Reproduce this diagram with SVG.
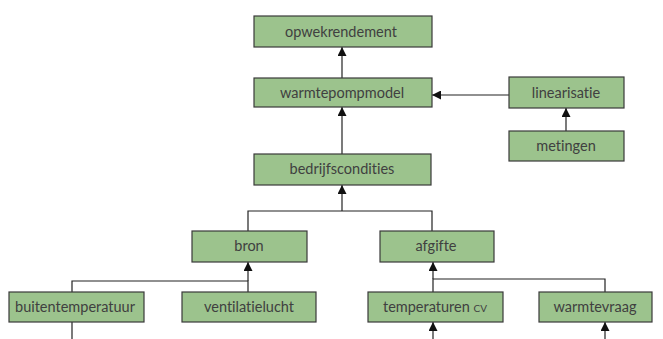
<svg xmlns="http://www.w3.org/2000/svg" width="663" height="339" viewBox="0 0 663 339">
  <style>
    .box { fill: #9cc38d; stroke: #3a3a3a; stroke-width: 1.2; }
    .lbl { font-family: Lato, "Open Sans", sans-serif; font-size: 14.5px; fill: #404040; text-anchor: middle; font-variant-ligatures: none; }
    .edge { fill: none; stroke: #222; stroke-width: 1.2; }
  </style>
  <defs>
    <marker id="arrow" viewBox="0 0 10 10" refX="10" refY="5" markerWidth="9" markerHeight="9" markerUnits="userSpaceOnUse" orient="auto">
      <path d="M0,0 L10,5 L0,10 Z" fill="#111"/>
    </marker>
  </defs>
  <rect width="663" height="339" fill="#ffffff"/>

  <g id="connectors">
    <path class="edge" d="M342,78 L342,47" marker-end="url(#arrow)"/>
    <path class="edge" d="M342,154 L342,107" marker-end="url(#arrow)"/>
    <path class="edge" d="M509,95 L432,95" marker-end="url(#arrow)"/>
    <path class="edge" d="M566,131 L566,108" marker-end="url(#arrow)"/>
    <path class="edge" d="M248,231 L248,211 L432,211 L432,231"/>
    <path class="edge" d="M342,211 L342,185" marker-end="url(#arrow)"/>
    <path class="edge" d="M72,292 L72,281 L248,281 L248,292"/>
    <path class="edge" d="M248,281 L248,262" marker-end="url(#arrow)"/>
    <path class="edge" d="M433,292 L433,279 L605,279 L605,292"/>
    <path class="edge" d="M433,279 L433,262" marker-end="url(#arrow)"/>
    <path class="edge" d="M72,322 L72,339"/>
    <path class="edge" d="M433,339 L433,322" marker-end="url(#arrow)"/>
    <path class="edge" d="M605,339 L605,322" marker-end="url(#arrow)"/>
  </g>

  <g id="opwekrendement">
    <rect class="box" x="254" y="16" width="178" height="31"/>
    <text class="lbl" x="341" y="37">opwekrendement</text>
  </g>
  <g id="warmtepompmodel">
    <rect class="box" x="254" y="78" width="178" height="29"/>
    <text class="lbl" x="342" y="98">warmtepompmodel</text>
  </g>
  <g id="linearisatie">
    <rect class="box" x="509" y="77" width="115" height="31"/>
    <text class="lbl" x="566" y="98">linearisatie</text>
  </g>
  <g id="metingen">
    <rect class="box" x="509" y="131" width="115" height="30"/>
    <text class="lbl" x="566" y="151">metingen</text>
  </g>
  <g id="bedrijfscondities">
    <rect class="box" x="254" y="154" width="177" height="31"/>
    <text class="lbl" x="342" y="174">bedrijfscondities</text>
  </g>
  <g id="bron">
    <rect class="box" x="192" y="231" width="115" height="31"/>
    <text class="lbl" x="249" y="251">bron</text>
  </g>
  <g id="afgifte">
    <rect class="box" x="380" y="231" width="114" height="31"/>
    <text class="lbl" x="436" y="251">afgifte</text>
  </g>
  <g id="buitentemperatuur">
    <rect class="box" x="9" y="292" width="135" height="30"/>
    <text class="lbl" x="75" y="312">buitentemperatuur</text>
  </g>
  <g id="ventilatielucht">
    <rect class="box" x="182" y="292" width="134" height="30"/>
    <text class="lbl" x="249" y="312">ventilatielucht</text>
  </g>
  <g id="temperaturen-cv">
    <rect class="box" x="368" y="292" width="135" height="30"/>
    <text class="lbl" x="435" y="312">temperaturen <tspan font-variant="small-caps">cv</tspan></text>
  </g>
  <g id="warmtevraag">
    <rect class="box" x="539" y="292" width="113" height="30"/>
    <text class="lbl" x="595" y="312">warmtevraag</text>
  </g>
</svg>
